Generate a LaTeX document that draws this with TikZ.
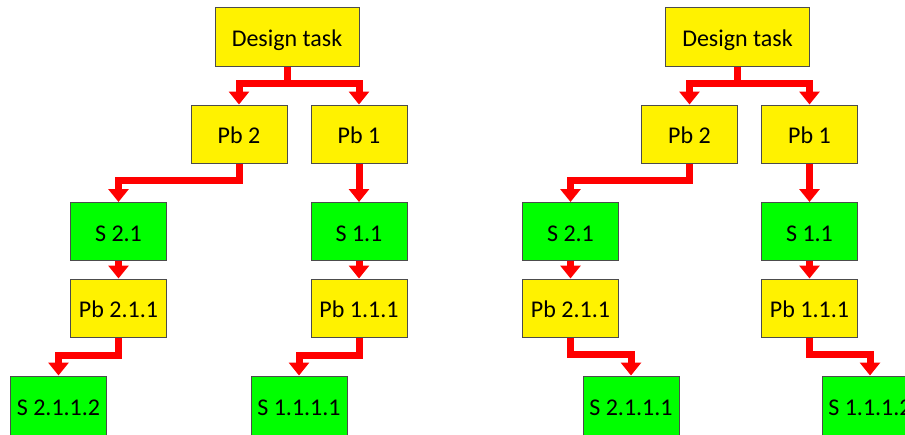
\documentclass[tikz,border=0pt]{standalone}
\usepackage{fontspec}
\setmainfont{Carlito}
\usetikzlibrary{arrows.meta}

\begin{document}
\begin{tikzpicture}[x=1pt, y=-1pt,
    box/.style={draw=black!70, line width=1pt, minimum width=96pt, minimum height=58pt,
        inner sep=0pt, text height=19pt, text depth=0pt, font=\fontsize{24}{28}\selectfont},
    pbbox/.style={box, fill=yellow},
    solbox/.style={box, fill=green},
    link/.style={draw=red, line width=7pt, -{Triangle[width=20pt,length=13pt]}}]
        \useasboundingbox (0,0) rectangle (905,434);
        \clip (0,0) rectangle (905,434);

        % Left tree
        \node[pbbox, minimum width=144pt, minimum height=59pt] (taskL) at (287,36.5) {Design task};
        \node[pbbox] (pbtwoL) at (239,134) {Pb 2};
        \node[pbbox] (pboneL) at (359,134) {Pb 1};
        \node[solbox] (stwoL) at (118.5,231.5) {S 2.1};
        \node[solbox] (soneL) at (359,231.5) {S 1.1};
        \node[pbbox] (pbtwosubL) at (118.5,308) {Pb 2.1.1};
        \node[pbbox] (pbonesubL) at (359,308) {Pb 1.1.1};
        \node[solbox, minimum height=60pt] (stwosubL) at (58.5,406) {S 2.1.1.2};
        \node[solbox, minimum height=60pt] (sonesubL) at (299,406) {S 1.1.1.1};

        \draw[link] (taskL.south) -- ++(0,17) -| (pbtwoL.north);
        \draw[link] (taskL.south) -- ++(0,17) -| (pboneL.north);
        \draw[link] (pbtwoL.south) -- ++(0,17) -| (stwoL.north);
        \draw[link] (pboneL.south) -- (soneL.north);
        \draw[link] (stwoL.south) -- (pbtwosubL.north);
        \draw[link] (soneL.south) -- (pbonesubL.north);
        \draw[link] (pbtwosubL.south) -- ++(0,18) -| (stwosubL.north);
        \draw[link] (pbonesubL.south) -- ++(0,18) -| (sonesubL.north);

        % Right tree
        \node[pbbox, minimum width=144pt, minimum height=59pt] (taskR) at (737.5,36.5) {Design task};
        \node[pbbox] (pbtwoR) at (689.5,134) {Pb 2};
        \node[pbbox] (pboneR) at (809.5,134) {Pb 1};
        \node[solbox] (stwoR) at (570.5,231.5) {S 2.1};
        \node[solbox] (soneR) at (809.5,231.5) {S 1.1};
        \node[pbbox] (pbtwosubR) at (570.5,308) {Pb 2.1.1};
        \node[pbbox] (pbonesubR) at (809.5,308) {Pb 1.1.1};
        \node[solbox, minimum height=60pt] (stwosubR) at (631,406) {S 2.1.1.1};
        \node[solbox, minimum height=60pt] (sonesubR) at (870,406) {S 1.1.1.2};

        \draw[link] (taskR.south) -- ++(0,17) -| (pbtwoR.north);
        \draw[link] (taskR.south) -- ++(0,17) -| (pboneR.north);
        \draw[link] (pbtwoR.south) -- ++(0,17) -| (stwoR.north);
        \draw[link] (pboneR.south) -- (soneR.north);
        \draw[link] (stwoR.south) -- (pbtwosubR.north);
        \draw[link] (soneR.south) -- (pbonesubR.north);
        \draw[link] (pbtwosubR.south) -- ++(0,17) -| (stwosubR.north);
        \draw[link] (pbonesubR.south) -- ++(0,17) -| (sonesubR.north);
    \end{tikzpicture}
\end{document}
